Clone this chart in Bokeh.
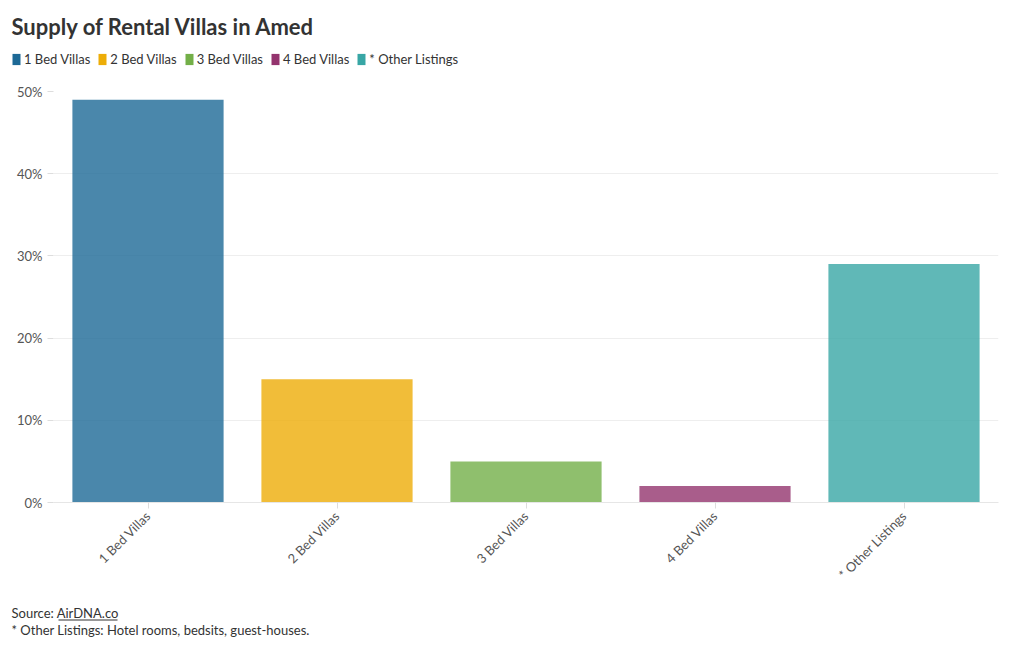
from math import pi
from bokeh.plotting import figure
from bokeh.layouts import column
from bokeh.models import Legend, LegendItem, Label, BoxAnnotation, PrintfTickFormatter, FixedTicker, Range1d
from bokeh.embed import file_html
from bokeh.resources import INLINE

categories = ["1 Bed Villas", "2 Bed Villas", "3 Bed Villas", "4 Bed Villas", "* Other Listings"]
shares = [49, 15, 5, 2, 29]
colors = ["#1D6996", "#EDAD08", "#73AF48", "#94346E", "#38A6A5"]
y_ticks = [0, 10, 20, 30, 40, 50]
title_text = "Supply of Rental Villas in Amed"
source_text = "Source: AirDNA.co"
note_text = "* Other Listings: Hotel rooms, bedsits, guest-houses."

FONT = "Lato"
W = 1020

# ---------- header (title + legend) ----------
head = figure(x_range=categories, y_range=Range1d(0, 1), width=W, height=81,
              output_backend="svg", toolbar_location=None, tools="",
              x_axis_location=None, y_axis_location=None,
              min_border=0)
head.frame_align = False
head.outline_line_color = None
head.grid.visible = False

items = []
for cat, col in zip(categories, colors):
    r = head.vbar(x=[cat], top=[0], bottom=[0], width=0.8, fill_color=col,
                  fill_alpha=1.0, line_color=None)
    items.append(LegendItem(label=cat, renderers=[r]))

legend = Legend(items=items, orientation="horizontal", location=(11, 14),
                label_text_font=FONT, label_text_font_size="13px", label_text_color="#333333",
                glyph_width=10, glyph_height=14, spacing=7, label_standoff=3,
                padding=0, margin=0, border_line_color=None, background_fill_alpha=0,
                label_height=14)
head.add_layout(legend, "center")

head.add_layout(Label(x=11, y=55, x_units="screen", y_units="screen",
                      text=title_text, text_font=FONT, text_font_size="22px",
                      text_font_style="bold", text_color="#333333",
                      text_baseline="alphabetic"))

# ---------- main chart ----------
p = figure(x_range=categories, y_range=Range1d(0, 50), width=W, height=511,
           output_backend="svg", toolbar_location=None, tools="",
           min_border_left=53, min_border_right=22, min_border_top=10, min_border_bottom=90)
p.frame_align = False
p.outline_line_color = None

for cat, val, col in zip(categories, shares, colors):
    p.vbar(x=[cat], top=[val], width=0.8, fill_color=col, fill_alpha=0.8, line_color=None)

p.yaxis.ticker = FixedTicker(ticks=y_ticks)
p.yaxis.formatter = PrintfTickFormatter(format="%d%%")
p.yaxis.axis_line_color = None
p.yaxis.major_tick_line_color = "#dddddd"
p.yaxis.major_tick_in = 0
p.yaxis.major_tick_out = 6
p.yaxis.minor_tick_line_color = None
p.yaxis.major_label_text_font = FONT
p.yaxis.major_label_text_font_size = "13px"
p.yaxis.major_label_text_color = "#555555"

p.xaxis.axis_line_color = "#e6e6e6"
p.xaxis.major_tick_line_color = "#dddddd"
p.xaxis.major_tick_in = 0
p.xaxis.major_tick_out = 6
p.xaxis.major_label_orientation = pi / 4
p.xaxis.major_label_text_font = FONT
p.xaxis.major_label_text_font_size = "13px"
p.xaxis.major_label_text_color = "#555555"

p.xgrid.grid_line_color = None
p.ygrid.grid_line_color = "#eeeeee"

# ---------- footer ----------
foot = figure(x_range=Range1d(0, 1), y_range=Range1d(0, 1), width=W, height=58,
              output_backend="svg", toolbar_location=None, tools="",
              x_axis_location=None, y_axis_location=None, min_border=0)
foot.frame_align = False
foot.outline_line_color = None
foot.grid.visible = False
foot.add_layout(Label(x=11, y=38, x_units="screen", y_units="screen", text=source_text,
                      text_font=FONT, text_font_size="13px", text_color="#333333",
                      text_baseline="alphabetic"))
foot.add_layout(Label(x=11, y=21, x_units="screen", y_units="screen", text=note_text,
                      text_font=FONT, text_font_size="13px", text_color="#333333",
                      text_baseline="alphabetic"))
foot.add_layout(BoxAnnotation(left=58, right=117, bottom=30, top=31,
                              left_units="screen", right_units="screen",
                              bottom_units="screen", top_units="screen",
                              fill_color="#333333", fill_alpha=1.0, line_color=None))

layout = column(head, p, foot, spacing=0)
open("out.html", "w").write(file_html(layout, INLINE))
